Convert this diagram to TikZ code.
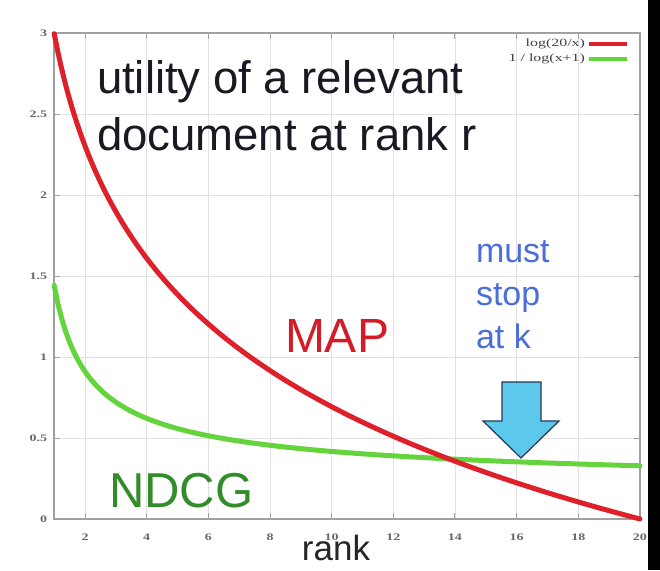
\documentclass[tikz,border=0pt]{standalone}
\usepackage{fontspec}
\setmainfont{Liberation Sans}
\newfontfamily\legfont{Liberation Serif}
\definecolor{mapred}{RGB}{222,32,42}
\definecolor{mapredtext}{RGB}{212,28,40}
\definecolor{ndcggreen}{RGB}{100,212,60}
\definecolor{ndcgtext}{RGB}{50,140,40}
\definecolor{stopblue}{RGB}{75,110,215}
\definecolor{arrowfill}{RGB}{92,200,236}
\definecolor{arrowline}{RGB}{40,55,85}
\definecolor{framegray}{RGB}{160,160,160}
\definecolor{gridgray}{RGB}{226,226,226}
\definecolor{ticklab}{RGB}{105,105,105}
\definecolor{titleblack}{RGB}{25,25,35}
\begin{document}
\begin{tikzpicture}[x=1pt,y=-1pt,
  every node/.style={inner sep=0pt, outer sep=0pt},
  ticklabel/.style={font=\legfont\bfseries\fontsize{10}{10}\selectfont, text=ticklab, xscale=1.4},
  legendlabel/.style={font=\legfont\fontsize{11}{11}\selectfont, text=black!75, xscale=1.45, anchor=east},
  gridline/.style={draw=gridgray, line width=0.8pt},
  frameline/.style={draw=framegray, line width=1.5pt},
  tickline/.style={draw=framegray, line width=1pt},
  curve/.style={line width=5pt, line cap=round, line join=round},
  bigtext/.style={font=\fontsize{45.5}{45.5}\selectfont, text=titleblack, anchor=base west},
  labeltext/.style={font=\fontsize{49}{49}\selectfont, anchor=base west},
  stoptext/.style={font=\fontsize{34}{34}\selectfont, text=stopblue, anchor=base west}
]
\useasboundingbox (0,0) rectangle (660,570);
\fill[white] (0,0) rectangle (660,570);
\fill[black] (648,0) rectangle (660,570);

% grid
\foreach \r in {2,4,...,18}
  \draw[gridline] ({23.37+30.83*\r},33) -- ({23.37+30.83*\r},519);
\foreach \v in {0.5,1,1.5,2,2.5}
  \draw[gridline] (54.2,{519-162*\v}) -- (640,{519-162*\v});

% frame
\draw[frameline] (54.2,33) rectangle (640,519);

% ticks and tick labels
\foreach \r in {2,4,...,20} {
  \draw[tickline] ({23.37+30.83*\r},519) -- ({23.37+30.83*\r},513);
  \draw[tickline] ({23.37+30.83*\r},33) -- ({23.37+30.83*\r},39);
  \node[ticklabel] (xl\r) at ({23.37+30.83*\r},537) {\r};
}
\foreach \v/\t in {0/0,0.5/0.5,1/1,1.5/1.5,2/2,2.5/2.5,3/3} {
  \draw[tickline] (54.2,{519-162*\v}) -- (60,{519-162*\v});
  \draw[tickline] (640,{519-162*\v}) -- (634,{519-162*\v});
  \node[ticklabel, anchor=east] (yl\t) at (47,{519-162*\v}) {\t};
}

% curves
\draw[curve, ndcggreen] plot[domain=1:20, samples=150, smooth]
  ({23.37+30.83*\x},{519-162/ln(\x+1)});
\draw[curve, mapred] plot[domain=1:20, samples=150, smooth]
  ({23.37+30.83*\x},{519-162*ln(20/\x)});

% legend
\node[legendlabel] (leg1) at (585,44) {log(20/x)};
\node[legendlabel] (leg2) at (585,59) {1 / log(x+1)};
\coordinate (leg1a) at (589,44);
\coordinate (leg1b) at (627,44);
\coordinate (leg2a) at (589,59);
\coordinate (leg2b) at (627,59);
\draw[mapred, line width=4pt] (leg1a) -- (leg1b);
\draw[ndcggreen, line width=4pt] (leg2a) -- (leg2b);

% texts
\node[bigtext] (title1) at (97,93) {utility of a relevant};
\node[bigtext] (title2) at (97,150) {document at rank r};
\node[labeltext, text=mapredtext, font=\fontsize{48}{48}\selectfont] (map) at (285,352) {MAP};
\node[labeltext, text=ndcgtext] (ndcg) at (109,507) {NDCG};
\node[stoptext] (must) at (476,262) {must};
\node[stoptext] (stop) at (476,305) {stop};
\node[stoptext] (atk) at (476,348) {at k};
\node[font=\fontsize{35}{35}\selectfont, text=black!85, anchor=base] (rank) at (336,560) {rank};

% arrow
\filldraw[fill=arrowfill, draw=arrowline, line width=1.2pt, line join=miter]
  (502,382) -- (541,382) -- (541,421) -- (559,421) -- (521,458) -- (483,421) -- (502,421) -- cycle;
\end{tikzpicture}
\end{document}
